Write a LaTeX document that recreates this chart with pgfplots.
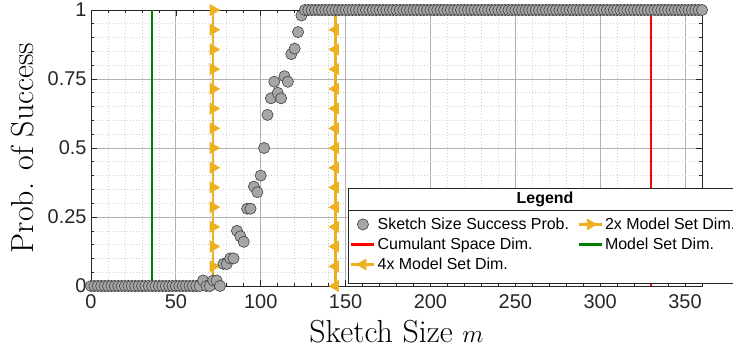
\documentclass[border=0pt]{standalone}
\usepackage{pgfplots}
\pgfplotsset{compat=1.18}
\usepackage{fontspec}
\newfontfamily\helv{Liberation Sans}
\definecolor{yell}{RGB}{237,177,32}
\definecolor{mgreen}{RGB}{0,128,0}
\definecolor{mgray}{RGB}{165,165,165}
\definecolor{axc}{RGB}{38,38,38}
\pgfplotsset{
  myleg/.style={legend image code/.code={\draw[mark repeat=2,mark phase=2,##1] plot coordinates {(0bp,0bp) (11.5bp,0bp) (23bp,0bp)};}},
}
\begin{document}
\begin{tikzpicture}
\begin{axis}[
  scale only axis, width=611bp, height=276bp,
  xmin=0, xmax=360, ymin=0, ymax=1,
  xtick={0,50,...,350}, ytick={0,0.25,0.5,0.75,1},
  yticklabels={0,0.25,0.5,0.75,1},
  minor x tick num=4, minor y tick num=4,
  grid=both,
  major grid style={draw=black!30, line width=0.8bp},
  minor grid style={draw=black!18, dash pattern=on 1.5bp off 1.5bp, line width=0.6bp},
  tick align=inside,
  major tick length=6bp, minor tick length=3.5bp,
  axis line style={draw=axc, line width=0.8bp},
  every tick/.style={draw=axc, line width=0.6bp},
  ticklabel style={font=\helv\fontsize{20}{22}\selectfont, text=axc},
  xticklabel style={yshift=-5bp},
  yticklabel style={xshift=-1bp},
  /pgf/number format/assume math mode=true,
  xlabel={Sketch Size $m$}, ylabel={Prob. of Success},
  label style={font=\fontsize{32}{36}\selectfont},
  xlabel style={at={(axis description cs:0.5,0)}, anchor=center, yshift=-46bp},
  ylabel style={at={(axis description cs:-0.1113,0.5)}, anchor=center},
  clip=false,
  legend columns=2,
  legend cell align=left,
  legend style={at={(0.4206,0.262)}, anchor=north west, draw=none, fill=none,
    font=\helv\fontsize{16}{18}\selectfont, inner sep=2bp, row sep=3bp,
    /tikz/every even column/.append style={column sep=6.5bp}},
]
% vertical reference lines
\addplot[forget plot, mgreen, line width=2.5bp] coordinates {(36,0) (36,1)};
\addplot[forget plot, red, line width=2.5bp] coordinates {(330,0) (330,1)};
\addplot[forget plot, yell, line width=2.5bp, mark=triangle*, mark size=4.5bp, mark options={rotate=-90, fill=yell, draw=yell}] coordinates {
(72,0) (72,0.0714) (72,0.1429) (72,0.2143) (72,0.2857) (72,0.3571) (72,0.4286) (72,0.5)
(72,0.5714) (72,0.6429) (72,0.7143) (72,0.7857) (72,0.8571) (72,0.9286) (72,1)};
\addplot[forget plot, yell, line width=2.5bp, mark=triangle*, mark size=4.5bp, mark options={rotate=90, fill=yell, draw=yell}] coordinates {
(144,0) (144,0.0714) (144,0.1429) (144,0.2143) (144,0.2857) (144,0.3571) (144,0.4286) (144,0.5)
(144,0.5714) (144,0.6429) (144,0.7143) (144,0.7857) (144,0.8571) (144,0.9286) (144,1)};
% success probability
\addplot[forget plot, only marks, mark=*, mark size=5.6bp, mark options={fill=mgray, draw=black!75, line width=0.6bp}] coordinates {
(0,0) (2,0) (4,0) (6,0) (8,0) (10,0) (12,0) (14,0) (16,0) (18,0) (20,0) (22,0) (24,0) (26,0) (28,0) (30,0)
(32,0) (34,0) (36,0) (38,0) (40,0) (42,0) (44,0) (46,0) (48,0) (50,0) (52,0) (54,0) (56,0) (58,0) (60,0)
(62,0) (64,0) (66,0.02) (68,0) (70,0) (72,0.02) (74,0.02) (76,0) (78,0.08) (80,0.08) (82,0.1) (84,0.1)
(86,0.2) (88,0.18) (90,0.16) (92,0.28) (94,0.28) (96,0.36) (98,0.34) (100,0.4) (102,0.5) (104,0.62)
(106,0.68) (108,0.74) (110,0.7) (112,0.68) (114,0.76) (116,0.74) (118,0.84) (120,0.86) (122,0.92) (124,0.98)
(126,1) (128,1) (130,1) (132,1) (134,1) (136,1) (138,1) (140,1) (142,1) (144,1) (146,1) (148,1) (150,1)
(152,1) (154,1) (156,1) (158,1) (160,1) (162,1) (164,1) (166,1) (168,1) (170,1) (172,1) (174,1) (176,1)
(178,1) (180,1) (182,1) (184,1) (186,1) (188,1) (190,1) (192,1) (194,1) (196,1) (198,1) (200,1) (202,1)
(204,1) (206,1) (208,1) (210,1) (212,1) (214,1) (216,1) (218,1) (220,1) (222,1) (224,1) (226,1) (228,1)
(230,1) (232,1) (234,1) (236,1) (238,1) (240,1) (242,1) (244,1) (246,1) (248,1) (250,1) (252,1) (254,1)
(256,1) (258,1) (260,1) (262,1) (264,1) (266,1) (268,1) (270,1) (272,1) (274,1) (276,1) (278,1) (280,1)
(282,1) (284,1) (286,1) (288,1) (290,1) (292,1) (294,1) (296,1) (298,1) (300,1) (302,1) (304,1) (306,1)
(308,1) (310,1) (312,1) (314,1) (316,1) (318,1) (320,1) (322,1) (324,1) (326,1) (328,1) (330,1) (332,1)
(334,1) (336,1) (338,1) (340,1) (342,1) (344,1) (346,1) (348,1) (350,1) (352,1) (354,1) (356,1) (358,1) (360,1)};
% legend frame
\draw[fill=white, draw=axc, line width=0.8bp] (axis cs:151.4,0.011) rectangle (axis cs:383.6,0.355);
\draw[draw=axc, line width=0.8bp] (axis cs:151.4,0.2754) -- (axis cs:383.6,0.2754);
\node[font=\helv\bfseries\fontsize{16}{18}\selectfont] at (axis cs:267.5,0.315) {Legend};
% legend entries
\addlegendimage{myleg, only marks, mark=*, mark size=5.6bp, mark options={fill=mgray, draw=black!75, line width=0.6bp}}
\addlegendentry{Sketch Size Success Prob.}
\addlegendimage{myleg, yell, line width=2.5bp, mark=triangle*, mark size=4.5bp, mark options={rotate=-90, fill=yell, draw=yell}}
\addlegendentry{2x Model Set Dim.}
\addlegendimage{myleg, red, line width=2.5bp}
\addlegendentry{Cumulant Space Dim.}
\addlegendimage{myleg, mgreen, line width=2.5bp}
\addlegendentry{Model Set Dim.}
\addlegendimage{myleg, yell, line width=2.5bp, mark=triangle*, mark size=4.5bp, mark options={rotate=90, fill=yell, draw=yell}}
\addlegendentry{4x Model Set Dim.}
\end{axis}
\pgfresetboundingbox
\path ([xshift=-91bp,yshift=-63bp]current axis.south west) rectangle ([xshift=31bp,yshift=10bp]current axis.north east);
\end{tikzpicture}
\end{document}
